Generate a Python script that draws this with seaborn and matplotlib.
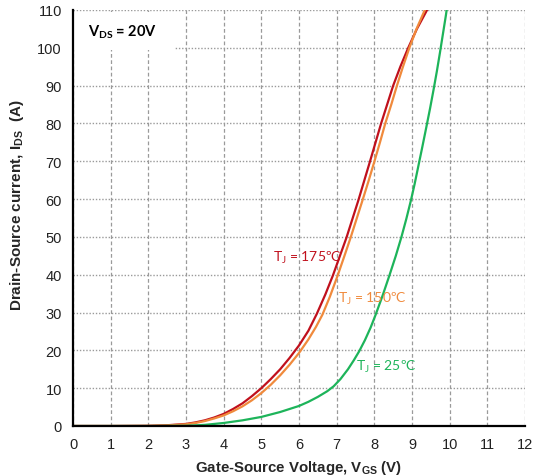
import matplotlib
matplotlib.use("Agg")
import matplotlib.pyplot as plt
import seaborn as sns
import pandas as pd
from matplotlib.patches import Rectangle

# Data
vgs_175 = [0, 1, 2, 2.5, 3, 3.25, 3.5, 3.75, 4, 4.25, 4.5, 4.75, 5, 5.25, 5.5, 5.75, 6, 6.25,
           6.47, 6.7, 6.9, 7.08, 7.26, 7.42, 7.58, 7.73, 7.88, 8.03, 8.18, 8.34, 8.5, 8.69, 8.9,
           9.13, 9.4]
ids_175 = [0, 0, 0.05, 0.2, 0.55, 0.95, 1.5, 2.25, 3.2, 4.5, 6.0, 7.9, 10.0, 12.4, 15.0, 18.0,
           21.3, 25.2, 29.6, 34.8, 39.8, 44.8, 49.8, 54.8, 59.8, 64.8, 69.8, 74.9, 80, 85, 90,
           95, 100, 105, 110]

vgs_150 = [0, 1, 2, 2.5, 3, 3.25, 3.5, 3.75, 4, 4.25, 4.5, 4.75, 5, 5.25, 5.5, 5.75, 6, 6.25,
           6.45, 6.62, 6.82, 7.02, 7.2, 7.37, 7.53, 7.69, 7.85, 8.0, 8.15, 8.29, 8.45, 8.6, 8.76,
           8.93, 9.12, 9.34]
ids_150 = [0, 0, 0.04, 0.15, 0.45, 0.8, 1.3, 2.0, 2.8, 3.9, 5.2, 6.8, 8.7, 10.9, 13.4, 16.2,
           19.3, 22.9, 26.2, 29.4, 34.2, 39.6, 44.8, 49.8, 54.8, 59.8, 64.9, 69.9, 75, 80, 85,
           90, 95, 100, 105, 110]

vgs_25 = [0, 2, 3, 3.5, 4, 4.5, 5, 5.5, 6, 6.25, 6.5, 6.75, 6.92, 7.1, 7.3, 7.45, 7.6, 7.75,
          7.9, 8.03, 8.22, 8.4, 8.57, 8.72, 8.85, 8.97, 9.07, 9.17, 9.27, 9.38, 9.48, 9.57,
          9.66, 9.74, 9.82, 9.9, 9.92]
ids_25 = [0, 0, 0.05, 0.3, 0.8, 1.5, 2.4, 3.7, 5.3, 6.4, 7.7, 9.2, 10.5, 12.4, 15, 17.3, 19.8,
          22.7, 26, 29.3, 34.5, 39.8, 45, 50, 54.8, 59.6, 64, 68.8, 73.6, 79, 84, 88.8, 93.8,
          98.6, 103.6, 108.6, 110]

x_ticks = list(range(0, 13))
y_ticks = list(range(0, 111, 10))

series_labels = ["T$_\\mathregular{J}$ = 175ºC", "T$_\\mathregular{J}$ = 150ºC", "T$_\\mathregular{J}$ = 25ºC"]
colors = ["#C0101C", "#F08A3C", "#1DB45A"]
label_pos = [(5.31, 44.7), (7.03, 33.9), (7.51, 15.9)]

sns.set_style("white")
plt.rcParams["font.family"] = ["Liberation Sans", "DejaVu Sans"]
plt.rcParams["mathtext.default"] = "regular"

fig = plt.figure(figsize=(5.39, 4.77), dpi=100)
ax = fig.add_axes([73/539, 1-427/477, (525-73)/539, (427-11)/477])

frames = [
    pd.DataFrame({"Vgs": vgs_175, "Ids": ids_175}),
    pd.DataFrame({"Vgs": vgs_150, "Ids": ids_150}),
    pd.DataFrame({"Vgs": vgs_25, "Ids": ids_25}),
]
for df, c in zip(frames, colors):
    sns.lineplot(data=df, x="Vgs", y="Ids", ax=ax, color=c, lw=1.6, sort=False,
                 estimator=None, zorder=3, clip_on=True,
                 solid_joinstyle="round", solid_capstyle="round")

ax.set_xlim(0, 12)
ax.set_ylim(0, 110)
ax.set_xticks(x_ticks)
ax.set_yticks(y_ticks)
ax.set_axisbelow(True)
ax.xaxis.grid(True, color="#9a9a9a", linestyle=(0, (3, 2)), lw=0.9)
ax.yaxis.grid(True, color="#9a9a9a", linestyle=(0, (1, 1.3)), lw=1.0)

for s in ["top", "right"]:
    ax.spines[s].set_visible(False)
for s in ["left", "bottom"]:
    ax.spines[s].set_color("black")
    ax.spines[s].set_linewidth(1.6)
ax.spines["left"].set_zorder(4)
ax.spines["bottom"].set_zorder(4)

ax.tick_params(axis="both", direction="out", length=4, width=1.2, color="black",
               labelsize=10.5, labelcolor="#222222", pad=4)

ax.add_patch(Rectangle((0, 99.3), 2.72, 10.3, facecolor="white", edgecolor="none", zorder=1))

ax.set_xlabel("Gate-Source Voltage, V$_\\mathregular{GS}$ (V)", fontsize=10.8, fontweight="bold")
ax.xaxis.set_label_coords(0.5, -0.078)
ax.set_ylabel("Drain-Source current, I$_\\mathregular{DS}$  (A)", fontsize=11, fontweight="bold")
ax.yaxis.set_label_coords(-0.105, 0.534)

ax.text(0.4, 104.5, "V$_\\mathregular{DS}$ = 20V", fontsize=10.5, fontweight="bold",
        family=["Lato", "DejaVu Sans"], va="center", ha="left", color="black", zorder=5)

for lab, c, (lx, ly) in zip(series_labels, colors, label_pos):
    ax.text(lx, ly, lab, fontsize=10, color=c, family=["Lato", "DejaVu Sans"],
            va="center", ha="left", zorder=5)

fig.savefig("out.png", dpi=100)
